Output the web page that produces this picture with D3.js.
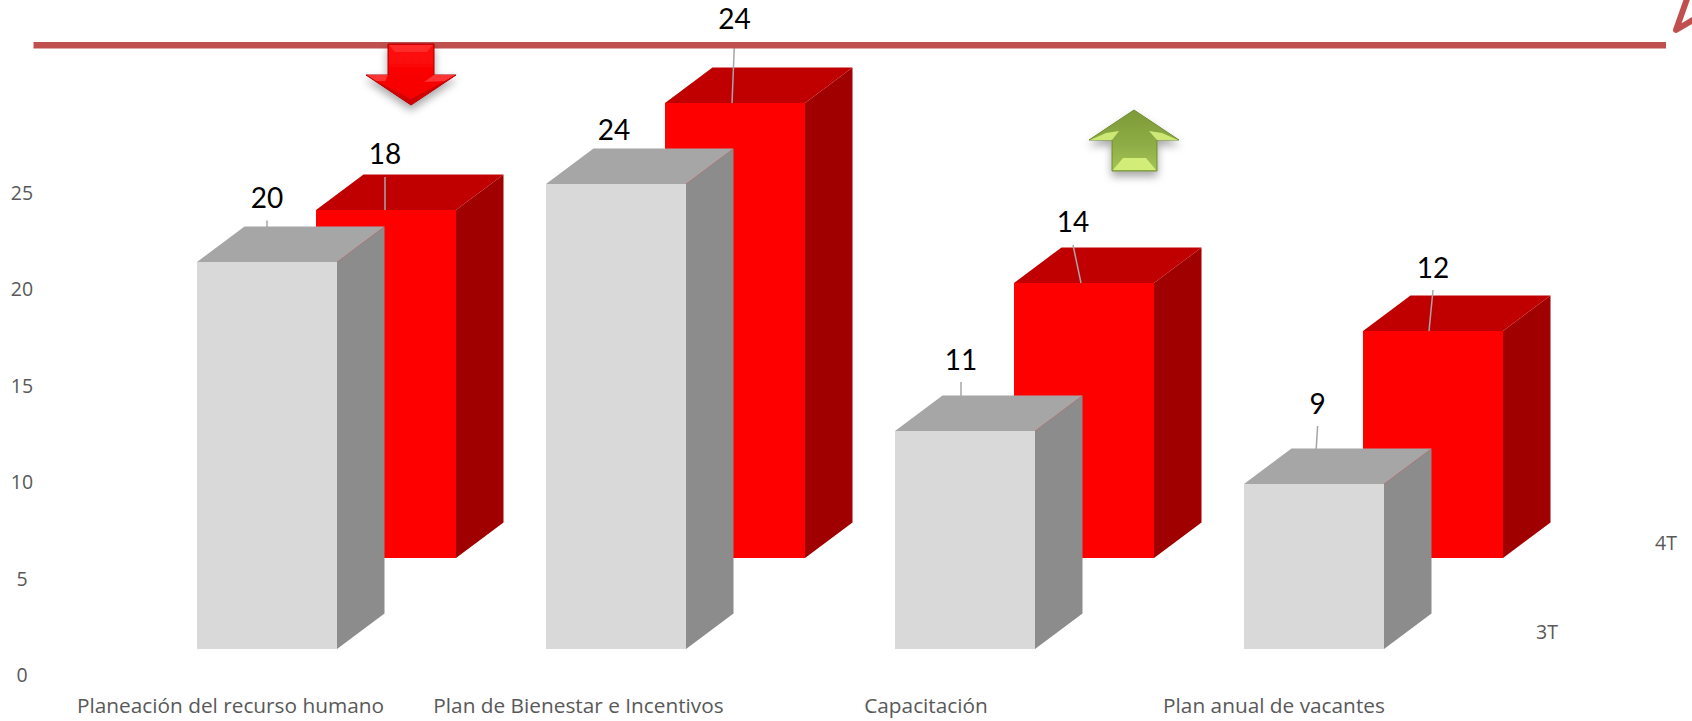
<!DOCTYPE html>
<html><head><meta charset="utf-8">
<script src="https://cdn.jsdelivr.net/npm/d3@7"></script>
<style>html,body{margin:0;background:#fff}svg{display:block}text{font-family:"Open Sans",sans-serif}text.dl{font-family:Lato,sans-serif}</style>
</head><body><svg id="c" width="1692" height="721"></svg>
<script>
const categories=["Planeación del recurso humano","Plan de Bienestar e Incentivos","Capacitación","Plan anual de vacantes"];
const seriesNames=["3T","4T"];
const values3T=[20.05,24.06,11.26,8.5];
const values4T=[18.05,23.6,14.27,11.75];
const labels3T=[20,24,11,9];
const labels4T=[18,24,14,12];
const yTicks=[0,5,10,15,20,25];

const W=1692,H=721,svg=d3.select("#c");
const y=d3.scaleLinear().domain([0,25]).range([675.5,193]);
const x=d3.scalePoint().domain(categories).range([197,1244]);
const catLabelX=d3.scaleOrdinal().domain(categories).range([230.5,578.5,926,1274]);
const barW=140,depthX=47.5,depthY=35.6;
const base0=y(0);
const layers=[
 {name:"4T",vals:values4T,labs:labels4T,ox:119,oy:117.5,front:"#ff0000",side:"#a00000",top:"#c00000",
  dx:[-1,-0.5,-11,0],dy:[-55,-83,-60,-63],lineEnd:[-1,-3,-3,-4]},
 {name:"3T",vals:values3T,labs:labels3T,ox:0,oy:27,front:"#d9d9d9",side:"#8c8c8c",top:"#a6a6a6",
  dx:[0,-2,-4,3.6],dy:[-63.5,-54,-71,-80],lineEnd:[0,-2,-4,0]}
];
const line=d3.line();
layers.forEach(L=>{
 const g=svg.append("g").attr("class","series-"+L.name);
 categories.forEach((c,i)=>{
  const x0=Math.round(x(c)+L.ox),x1=x0+barW,yb=Math.round(base0-L.oy),yt=Math.round(y(L.vals[i])-L.oy);
  g.append("path").attr("d",line([[x1,yb],[x1+depthX,yb-depthY],[x1+depthX,yt-depthY],[x1,yt]])+"Z").attr("fill",L.side);
  g.append("path").attr("d",line([[x0,yt],[x1,yt],[x1+depthX,yt-depthY],[x0+depthX,yt-depthY]])+"Z").attr("fill",L.top);
  g.append("rect").attr("x",x0).attr("y",yt).attr("width",barW).attr("height",yb-yt).attr("fill",L.front);
  const cx=x0+barW/2,lx=cx+L.dx[i],ly=yt+L.dy[i];
  g.append("line").attr("x1",lx).attr("y1",ly+22).attr("x2",cx+L.lineEnd[i]).attr("y2",yt)
   .attr("stroke","#a6a6a6").attr("stroke-width",1.5);
 });
});
layers.forEach(L=>{
 categories.forEach((c,i)=>{
  const x0=x(c)+L.ox,yt=y(L.vals[i])-L.oy;
  svg.append("text").attr("class","dl").attr("x",x0+barW/2+L.dx[i]).attr("y",yt+L.dy[i]).attr("dy","0.35em")
   .attr("text-anchor","middle").attr("font-size",28).attr("fill","#000").text(L.labs[i]);
 });
});
yTicks.forEach(t=>svg.append("text").attr("x",22).attr("y",y(t)).attr("dy","0.35em")
 .attr("text-anchor","middle").attr("font-size",19.5).attr("fill","#595959").text(t));
categories.forEach(c=>svg.append("text").attr("x",catLabelX(c)).attr("y",713).attr("text-anchor","middle")
 .attr("font-size",20.8).attr("fill","#595959").text(c));
svg.append("text").attr("x",1547).attr("y",632).attr("dy","0.35em").attr("text-anchor","middle").attr("font-size",19.5).attr("fill","#595959").text(seriesNames[0]);
svg.append("text").attr("x",1666).attr("y",543).attr("dy","0.35em").attr("text-anchor","middle").attr("font-size",19.5).attr("fill","#595959").text(seriesNames[1]);

const defs=svg.append("defs");
const sh=defs.append("filter").attr("id","sh").attr("x","-30%").attr("y","-30%").attr("width","160%").attr("height","170%");
sh.append("feDropShadow").attr("dx",0).attr("dy",5).attr("stdDeviation",4).attr("flood-color","#000").attr("flood-opacity",0.35);
const gg=defs.append("linearGradient").attr("id","gg").attr("x1",0).attr("x2",0).attr("y1",0).attr("y2",1);
gg.append("stop").attr("offset","0").attr("stop-color","#7d9a38");
gg.append("stop").attr("offset","0.6").attr("stop-color","#8fae47");
gg.append("stop").attr("offset","1").attr("stop-color","#a5c556");
const rg=defs.append("linearGradient").attr("id","rg").attr("x1",0).attr("x2",0).attr("y1",0).attr("y2",1);
rg.append("stop").attr("offset","0").attr("stop-color","#ff0a0a");
rg.append("stop").attr("offset","1").attr("stop-color","#f40000");
svg.append("line").attr("x1",33.5).attr("x2",1666).attr("y1",45.3).attr("y2",45.3).attr("stroke","#c0504d").attr("stroke-width",6.5);
svg.append("path").attr("d","M1688,-4L1676,30L1696,18").attr("fill","none").attr("stroke","#c0504d").attr("stroke-width",6).attr("stroke-linejoin","round");

function arrow(pts,base,edge,facets){
 svg.append("path").attr("filter","url(#sh)").attr("d",line(pts)+"Z").attr("fill",base).attr("stroke",edge).attr("stroke-width",1);
 facets.forEach(f=>svg.append("path").attr("d",line(f.p)+"Z").attr("fill",f.c));
}
arrow([[388,44],[434,44],[434,75],[456,75],[411,105],[366,75],[388,75]],"url(#rg)","#a80000",[
 {p:[[389,45],[433,45],[427,52],[395,52]],c:"#ff2a2a"},
 {p:[[367,75],[388,75],[385,81],[376,81]],c:"#ff3535"},
 {p:[[455,75],[434,75],[424,82],[445,81]],c:"#ff3535"},
 {p:[[367,75.5],[411,104.5],[455,75.5],[445,81],[411,99],[376,81]],c:"#d00000"}
]);
arrow([[1134,110],[1179,140],[1157,140],[1157,171],[1112,171],[1112,140],[1089,140]],"url(#gg)","#6f8a30",[
 {p:[[1113,170],[1156,170],[1146,158],[1123,158]],c:"#d2ee78"},
 {p:[[1090,140],[1112,140],[1119,131],[1106,133]],c:"#cde874"},
 {p:[[1178,140],[1157,140],[1149,131],[1162,133]],c:"#cde874"}
]);
</script></body></html>
